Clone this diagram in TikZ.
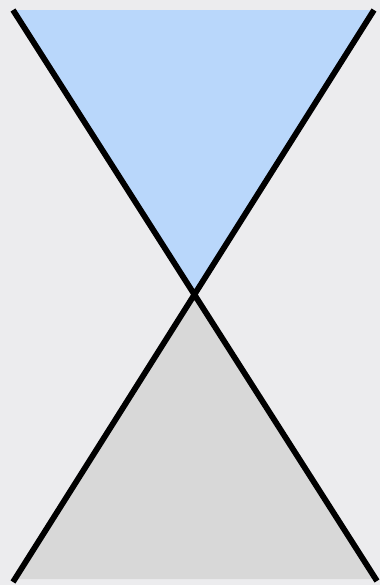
\documentclass[tikz,border=0pt]{standalone}
\usepackage[dvipsnames]{xcolor}
\usepackage{tikz}
\usetikzlibrary{calc}

\definecolor{bgGray}{RGB}{236,236,238}
\definecolor{topBlue}{RGB}{185,215,251}
\definecolor{lowGray}{RGB}{216,216,216}

\begin{document}
\begin{tikzpicture}[x=0.5pt,y=-0.5pt]
 % ---- frame
 \fill[bgGray] (0,0) rectangle (380,585);
 \useasboundingbox (0,0) rectangle (380,585);
 \coordinate (tl) at (13,10);
 \coordinate (tr) at (374,10);
 \coordinate (bl) at (13,582);
 \coordinate (br) at (377,581);
 \coordinate (mid) at (intersection of tl--br and tr--bl);
 \coordinate (fl) at (intersection of tr--bl and 0,579--380,579);
 \coordinate (fr) at (intersection of tl--br and 0,579--380,579);
 % ---- cones
 \fill[topBlue] (tl) -- (tr) -- (mid) -- cycle;
 \fill[lowGray] (mid) -- (fl) -- (fr) -- cycle;
 % ---- crossing lines
 \draw[line width=2.9pt] (tl) -- (br) (tr) -- (bl);
\end{tikzpicture}
\end{document}
